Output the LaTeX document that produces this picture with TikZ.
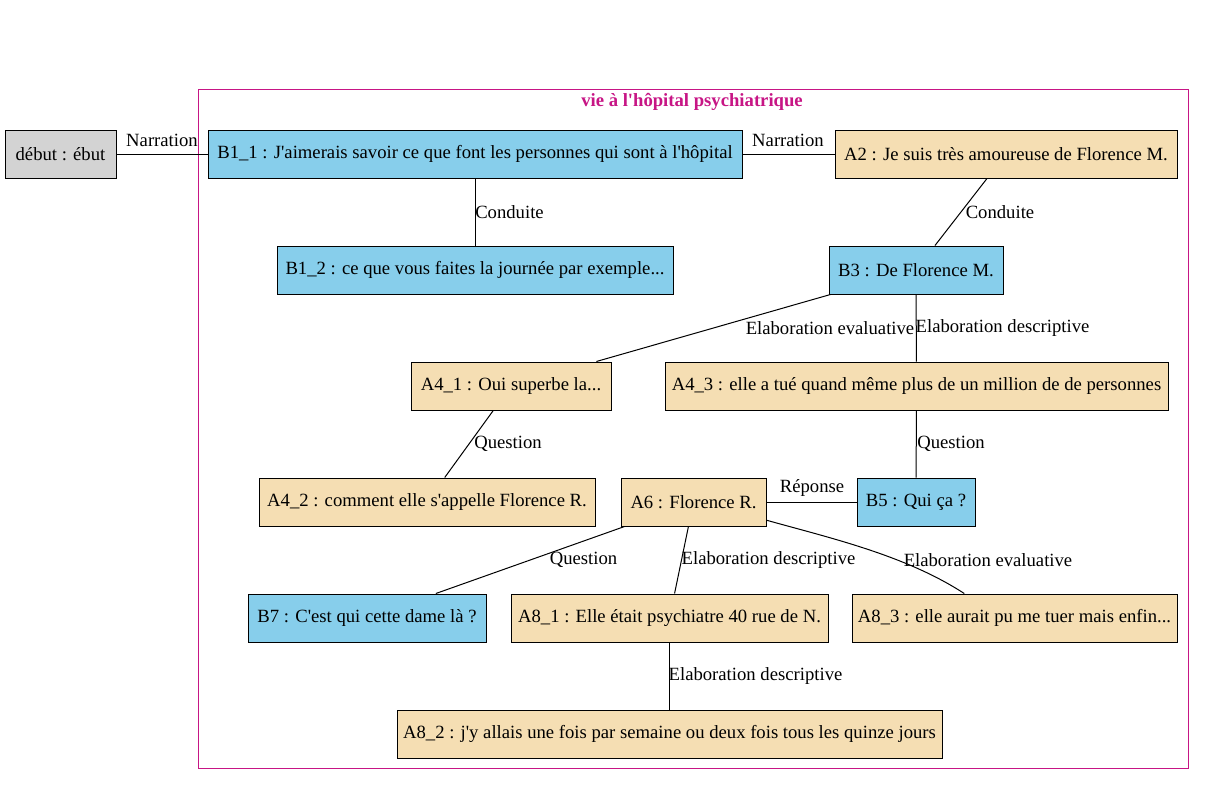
\documentclass[tikz,border=0pt]{standalone}
\usepackage{fontspec}
\setmainfont{Liberation Serif}
\definecolor{skyb}{HTML}{87CEEB}
\definecolor{wheatc}{HTML}{F5DEB3}
\definecolor{lgray}{HTML}{D3D3D3}
\definecolor{mvr}{HTML}{C71585}
\newcommand\ap{\textquotesingle}
\begin{document}
\begin{tikzpicture}[x=1pt,y=-1pt,
  every node/.style={font=\fontsize{18.67}{22}\selectfont},
  box/.style={draw, line width=1pt, rectangle, minimum height=48pt, inner sep=0pt},
  bbox/.style={box, fill=skyb},
  wbox/.style={box, fill=wheatc},
  gbox/.style={box, fill=lgray},
  lab/.style={inner sep=0pt},
  conn/.style={line width=1pt}]
\fill[white] (0,0) rectangle (1205,785);
\useasboundingbox (0,0) rectangle (1205,785);
% cluster
\draw[mvr, line width=1pt] (198,89) rectangle (1188,768);
\node[lab, text=mvr, font=\fontsize{18.67}{22}\selectfont\bfseries] (title) at (692,102) {vie à l\ap hôpital psychiatrique};
% nodes
\node[gbox, minimum width=111pt] (deb) at (60.5,154) {début : ébut};
\node[bbox, minimum width=534pt] (B11) at (475,154) {B1\_1 : J\ap aimerais savoir ce que font les personnes qui sont à l\ap hôpital};
\node[wbox, minimum width=342pt] (A2) at (1006,154) {A2 : Je suis très amoureuse de Florence M.};
\node[bbox, minimum width=396pt] (B12) at (475,270) {B1\_2 : ce que vous faites la journée par exemple...};
\node[bbox, minimum width=174pt] (B3) at (916,270) {B3 : De Florence M.};
\node[wbox, minimum width=200pt] (A41) at (511,386) {A4\_1 : Oui superbe la...};
\node[wbox, minimum width=503pt] (A43) at (916.5,386) {A4\_3 : elle a tué quand même plus de un million de de personnes};
\node[wbox, minimum width=336pt] (A42) at (427,502) {A4\_2 : comment elle s\ap appelle Florence R.};
\node[wbox, minimum width=145pt] (A6) at (693.5,502) {A6 : Florence R.};
\node[bbox, minimum width=118pt] (B5) at (916,502) {B5 : Qui ça ?};
\node[bbox, minimum width=238pt] (B7) at (367,618) {B7 : C\ap est qui cette dame là ?};
\node[wbox, minimum width=317pt] (A81) at (669.5,618) {A8\_1 : Elle était psychiatre 40 rue de N.};
\node[wbox, minimum width=325pt] (A83) at (1014.5,618) {A8\_3 : elle aurait pu me tuer mais enfin...};
\node[wbox, minimum width=545pt] (A82) at (669.5,734) {A8\_2 : j\ap y allais une fois par semaine ou deux fois tous les quinze jours};
% connectors
\draw[conn] (deb) -- (B11);
\draw[conn] (B11) -- (A2);
\draw[conn] (B11) -- (B12);
\draw[conn] (A2) -- (B3);
\draw[conn] (B3) -- (A41);
\draw[conn] (B3) -- (A43);
\draw[conn] (A41) -- (A42);
\draw[conn] (A43) -- (B5);
\draw[conn] (A6) -- (B5);
\draw[conn] (A6) -- (B7);
\draw[conn] (A6) -- (A81);
\draw[conn] (A6.-14) .. controls (830,538) and (905,555) .. (A83.154);
\draw[conn] (A81) -- (A82);
% labels
\node[lab] (l1) at (162,140) {Narration};
\node[lab] (l2) at (788,140) {Narration};
\node[lab] (l3) at (509.5,212) {Conduite};
\node[lab] (l4) at (1000,212) {Conduite};
\node[lab] (l5) at (830,328) {Elaboration evaluative};
\node[lab] (l6) at (1002.5,328) {Elaboration descriptive};
\node[lab] (l7) at (508,444) {Question};
\node[lab] (l8) at (951,444) {Question};
\node[lab] (l9) at (812,488) {Réponse};
\node[lab] (l10) at (583.5,560) {Question};
\node[lab] (l11) at (768.5,560) {Elaboration descriptive};
\node[lab] (l12) at (988,560) {Elaboration evaluative};
\node[lab] (l13) at (755.5,676) {Elaboration descriptive};
\end{tikzpicture}
\end{document}
